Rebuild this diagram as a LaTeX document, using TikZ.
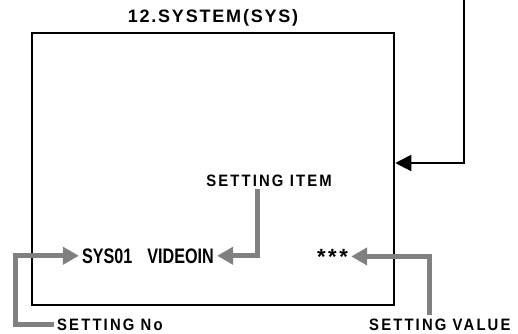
\documentclass[tikz,border=0pt]{standalone}
\usepackage{fontspec}
\setmainfont{Liberation Sans}
\newfontfamily\titlefont[LetterSpace=10]{Liberation Sans}
\newfontfamily\spacedfont[LetterSpace=13, FakeStretch=0.9]{Liberation Sans}
\newfontfamily\osdfont[FakeStretch=0.77]{Liberation Sans}
\newfontfamily\starfont[LetterSpace=12]{Liberation Sans}
\usetikzlibrary{arrows.meta}
\definecolor{pointer}{HTML}{808080}
\definecolor{ink}{HTML}{000000}

\begin{document}
\begin{tikzpicture}[x=1pt, y=-1pt,
    scr/.style={draw=ink, line width=2.5pt, inner sep=0pt, minimum width=362pt, minimum height=272pt},
    ttl/.style={font=\titlefont\bfseries\fontsize{18}{20}\selectfont, inner sep=0pt, anchor=base},
    lbl/.style={font=\spacedfont\bfseries\fontsize{16.5}{19}\selectfont, inner sep=3pt},
    osd/.style={font=\osdfont\bfseries\fontsize{21}{24}\selectfont, inner sep=3pt, anchor=base},
    gry/.style={draw=pointer, line width=5pt, -{Triangle[length=16pt, width=17pt]}},
    blk/.style={draw=ink, line width=2pt, -{Triangle[length=16pt, width=16pt]}}]

  \useasboundingbox (0,0) rectangle (518,333);

  % ── monitor screen and its title ──
  \node[ttl] (title) at (213,22) {12.SYSTEM(SYS)};
  \node[scr] (screen) at (213,169) {};

  % ── signal coming in from above ──
  \coordinate (feed) at (464,0);
  \draw[blk] (feed) |- ([yshift=6pt]screen.east);

  % ── what the screen shows ──
  \node[osd] (menu)  at (148,263) {SYS01\hspace{15pt}VIDEOIN};
  \node[osd, font=\starfont\bfseries\fontsize{22}{24}\selectfont] (value) at (332.5,264) {***};

  % ── labels round the screen ──
  \node[lbl, anchor=base]      (item)   at (269,186) {SETTING ITEM};
  \node[lbl, anchor=base west] (number) at (54,330)  {SETTING No};
  \node[lbl, anchor=base west] (setval) at (366,330) {SETTING VALUE};

  % ── pointers ──
  \draw[gry] ([xshift=-12pt]item.south) |- (menu.east);
  \draw[gry] (number.west) -- ++(-39,0) |- (menu.west);
  \draw[gry] ([xshift=-10pt]setval.north) |- (value.east);
\end{tikzpicture}
\end{document}
